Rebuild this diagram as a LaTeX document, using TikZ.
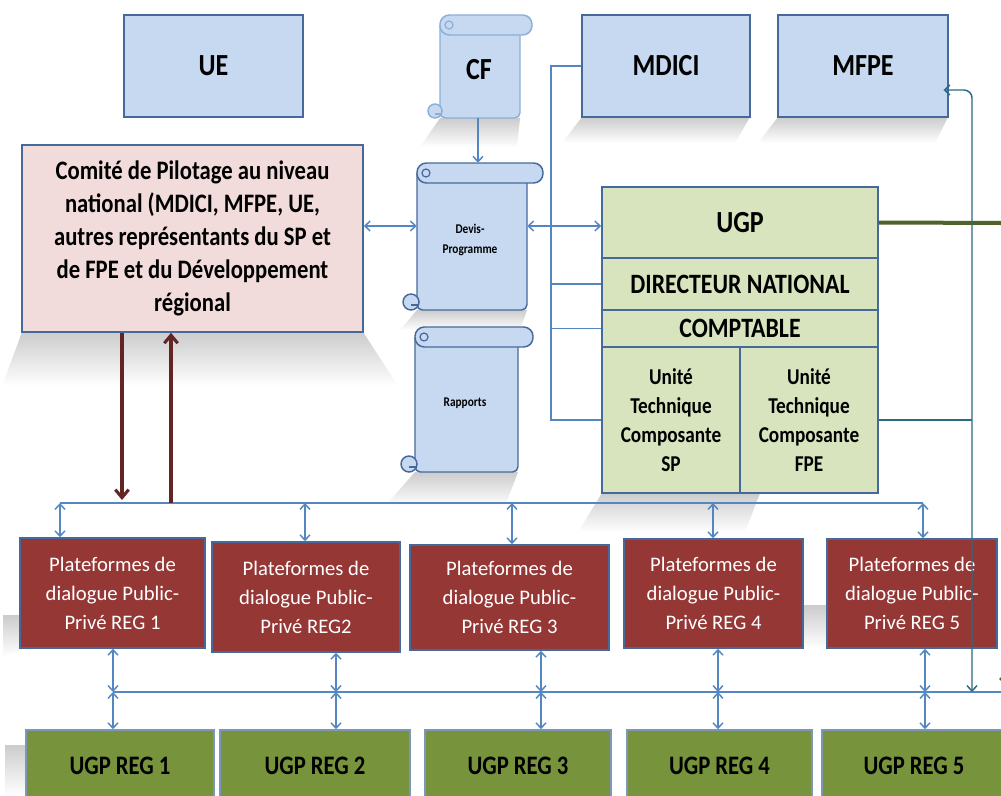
\documentclass[tikz,border=0pt]{standalone}
\usepackage{fontspec}
\setmainfont{Carlito}
\newfontfamily\cnd[FakeStretch=0.85]{Carlito}
\usetikzlibrary{arrows.meta,fadings}
\definecolor{bfill}{RGB}{198,217,241}
\definecolor{bbord}{RGB}{70,105,155}
\definecolor{lbord}{RGB}{140,175,215}
\definecolor{pfill}{RGB}{242,220,219}
\definecolor{gfill}{RGB}{215,228,189}
\definecolor{mfill}{RGB}{149,55,53}
\definecolor{rfill}{RGB}{119,147,60}
\definecolor{cblue}{RGB}{84,134,194}
\definecolor{marr}{RGB}{99,37,35}
\definecolor{gline}{RGB}{79,98,40}
\definecolor{tline}{RGB}{42,106,132}
\tikzset{
  every node/.style={inner sep=0pt, align=center},
  box/.style={draw=bbord, line width=1.2pt},
  bluebox/.style={box, fill=bfill, font=\cnd\bfseries\fontsize{23}{27}\selectfont},
  combox/.style={box, fill=pfill, font=\cnd\bfseries\fontsize{20}{24.75}\selectfont},
  ugpbig/.style={box, fill=gfill, font=\cnd\bfseries\fontsize{23}{27}\selectfont},
  ugpmid/.style={box, fill=gfill, font=\cnd\bfseries\fontsize{21}{25}\selectfont},
  unitbox/.style={box, fill=gfill, font=\cnd\bfseries\fontsize{17}{21.75}\selectfont},
  plat/.style={box, fill=mfill, text=white, font=\fontsize{15.5}{21.75}\selectfont},
  reg/.style={box, draw=bbord!70, fill=rfill, font=\cnd\bfseries\fontsize{20}{24}\selectfont},
  scrolltxt/.style={font=\cnd\bfseries\fontsize{10}{15}\selectfont},
  cftxt/.style={font=\cnd\bfseries\fontsize{23}{27}\selectfont},
  conn/.style={draw=cblue, line width=1.1pt},
  barb/.tip={Straight Barb[length=4pt,width=7.5pt,line width=1.1pt]},
  dbl/.style={conn, barb-barb},
  marrow/.style={draw=marr, line width=2.3pt, -{Straight Barb[length=6pt,width=10pt,line width=2.3pt]}},
  tealline/.style={draw=tline, line width=1.1pt},
  greenline/.style={draw=gline, line width=3pt},
  shad/.style={fill=black!20, path fading=south},
}
% \bx[style]{name}{x1}{y1}{x2}{y2}{text}
\newcommand\bx[7][]{\node[#1, minimum width={(#5-#3)*0.75pt}, minimum height={(#6-#4)*0.75pt}] (#2) at ({(#3+#5)/2},{(#4+#6)/2}) {#7};}
% \scrollsh{border}{xl}{yt}{xr}{yb}{roll right}{curl r}
\newcommand\scrollsh[7]{%
  \filldraw[fill=bfill, draw=#1, line width=1.1pt, rounded corners=4pt] (#2,#3+10) -- (#2,#5) -- (#4,#5) -- (#4,#3+10);
  \filldraw[fill=bfill, draw=#1, line width=1.1pt] ({#2-#7+2},{#5-#7}) circle[radius=#7];
  \draw[draw=#1, line width=0.9pt] ({#2-#7+2},{#5-#7+3}) -- ({#2+2},{#5-#7+3});
  \filldraw[fill=bfill, draw=#1, line width=1.1pt, rounded corners=7pt] (#2,#3) rectangle (#6,#3+20);
  \draw[draw=#1, line width=0.9pt] (#2+9,#3+10) circle[radius=4];
}
\begin{document}
\begin{tikzpicture}[x=0.75pt,y=-0.75pt]
\path[use as bounding box] (0,0) rectangle (1001,796);
\clip (0,0) rectangle (1001,796);
\fill[white] (0,0) rectangle (1001,796);

% shadows
\fill[shad] (22,332) -- (363,332) -- (398,386) -- (2,386) -- cycle;
\fill[shad] (440,118) -- (520,118) -- (517,147) -- (420,147) -- cycle;
\fill[shad] (582,117) -- (750,117) -- (735,143) -- (562,143) -- cycle;
\fill[shad] (778,117) -- (948,117) -- (935,143) -- (758,143) -- cycle;
\fill[shad] (417,310) -- (527,310) -- (520,330) -- (400,330) -- cycle;
\fill[shad] (415,472) -- (518,472) -- (505,506) -- (385,506) -- cycle;
\fill[shad] (602,493) -- (760,493) -- (745,532) -- (578,532) -- cycle;
\fill[shad] (3,615) -- (22,615) -- (22,650) -- (3,656) -- cycle;
\fill[shad] (803,605) -- (827,605) -- (827,648) -- (803,648) -- cycle;
\fill[shad] (5,745) -- (27,745) -- (27,796) -- (5,796) -- cycle;

% top boxes
\bx[bluebox]{ue}{124}{15}{303}{117}{UE}
\bx[bluebox]{mdici}{582}{15}{750}{117}{MDICI}
\bx[bluebox]{mfpe}{778}{15}{948}{117}{MFPE}

% scrolls
\scrollsh{lbord}{440}{15}{520}{118}{532}{7}
\node[cftxt] (cf) at (479,70) {CF};
\node[minimum width=80*0.75pt, minimum height=103*0.75pt] (cfb) at (480,66.5) {};
\scrollsh{bbord}{417}{163}{527}{310}{543}{8}
\node[scrolltxt] (devis) at (470,240) {Devis-\\Programme};
\node[minimum width=110*0.75pt, minimum height=147*0.75pt] (devb) at (472,236.5) {};
\scrollsh{bbord}{415}{327}{518}{472}{533}{8}
\node[scrolltxt] (rap) at (465,403) {Rapports};

% comite
\bx[combox]{comite}{22}{145}{363}{332}{Comité de Pilotage au niveau\\national (MDICI, MFPE, UE,\\autres représentants du SP et\\de FPE et du Développement\\régional}

% UGP block
\bx[ugpbig]{ugp}{602}{187}{878}{258}{UGP}
\bx[ugpmid]{dir}{602}{258}{878}{310}{DIRECTEUR NATIONAL}
\bx[ugpmid]{compt}{602}{310}{878}{347}{COMPTABLE}
\bx[unitbox]{sp}{602}{347}{740}{493}{Unité\\Technique\\Composante\\SP}
\bx[unitbox]{fpe}{740}{347}{878}{493}{Unité\\Technique\\Composante\\FPE}

% platforms
\bx[plat]{p1}{20}{538}{205}{648}{Plateformes de\\dialogue Public-\\Privé REG 1}
\bx[plat]{p2}{212}{542}{400}{652}{Plateformes de\\dialogue Public-\\Privé REG2}
\bx[plat]{p3}{410}{545}{609}{650}{Plateformes de\\dialogue Public-\\Privé REG 3}
\bx[plat]{p4}{624}{539}{803}{648}{Plateformes de\\dialogue Public-\\Privé REG 4}
\bx[plat]{p5}{827}{539}{997}{648}{Plateformes de\\dialogue Public-\\Privé REG 5}

% regional UGP
\bx[reg]{r1}{26}{730}{214}{802}{UGP REG 1}
\bx[reg]{r2}{220}{730}{410}{802}{UGP REG 2}
\bx[reg]{r3}{425}{730}{611}{802}{UGP REG 3}
\bx[reg]{r4}{627}{730}{812}{802}{UGP REG 4}
\bx[reg]{r5}{822}{730}{1006}{802}{UGP REG 5}

% coordinates
\coordinate (cx) at (478,0);
\coordinate (ly) at (0,226);
\coordinate (mv) at (551,0);
\coordinate (u1) at (60,503);
\coordinate (u2) at (305,503);
\coordinate (u3) at (512,503);
\coordinate (u4) at (713,503);
\coordinate (u5) at (923,503);
\coordinate (l1) at (113,692);
\coordinate (l2) at (336,692);
\coordinate (l3) at (541,692);
\coordinate (l4) at (718,692);
\coordinate (l5) at (925,692);
\coordinate (lend) at (1001,692);
\coordinate (m1) at (122,500);
\coordinate (m2) at (171,503);
\coordinate (tc) at (972,90);
\coordinate (tb) at (972,692);
\coordinate (gc1) at (1008,223);
\coordinate (gc2) at (1008,688);

% blue connectors
\draw[conn, -barb] (cfb.south -| cx) -- (devb.north -| cx);
\draw[dbl] (comite.east |- ly) -- (devb.west |- ly);
\draw[dbl] (devb.east |- ly) -- (ugp.west |- ly);
\draw[conn] (mdici.west) -- (mdici.west -| mv) -- (mv |- sp.west) -- (sp.west);
\draw[conn] (mv |- dir.west) -- (dir.west);
\draw[conn] (mv |- compt.west) -- (compt.west);

\draw[conn] (u1) -- (u5);
\foreach \i in {1,...,5}{
  \draw[dbl] (u\i) -- (u\i |- p\i.north);
  \draw[dbl] (p\i.south -| l\i) -- (l\i);
  \draw[dbl] (l\i) -- (l\i |- r\i.north);
}
\draw[conn] (l1) -- (lend);

% maroon arrows
\draw[marrow] (comite.south -| m1) -- (m1);
\draw[marrow] (m2) -- (comite.south -| m2);

% green and teal
\draw[greenline, rounded corners=6pt, -{Straight Barb[length=6pt,width=12pt,line width=2pt]}] (ugp.east) -- (gc1) -- (gc2);
\draw[tealline] (fpe.east) -- (fpe.east -| tc);
\draw[tealline, rounded corners=6pt, barb-barb] ([xshift=-4pt]mfpe.east |- tc) -- (tc) -- (tb);
\end{tikzpicture}
\end{document}
